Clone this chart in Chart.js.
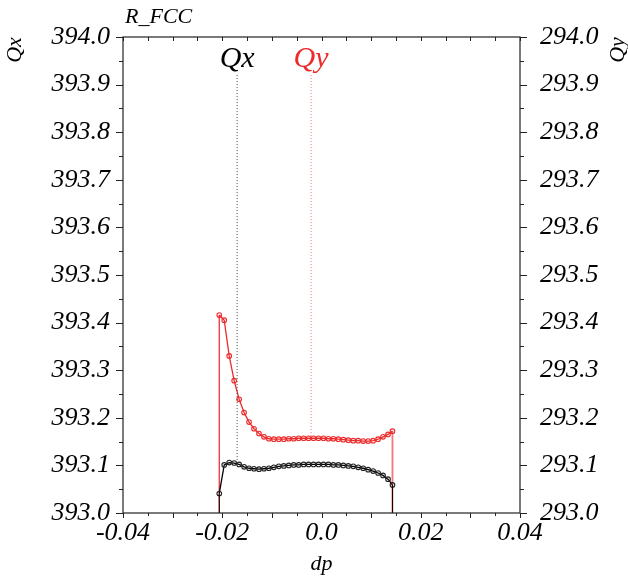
<!DOCTYPE html>
<html><head><meta charset="utf-8">
<script src="https://cdn.jsdelivr.net/npm/chart.js@4/dist/chart.umd.min.js"></script>
<style>html,body{margin:0;padding:0;background:#fff}</style>
</head><body>
<canvas id="c" width="628" height="577"></canvas>
<script>
// ---- data ----
const dp = [-0.0206,-0.0196,-0.0186,-0.0176,-0.0166,-0.0156,-0.0146,-0.0136,-0.0126,-0.0116,-0.0106,-0.0096,-0.0086,-0.0076,-0.0066,-0.0056,-0.0046,-0.0036,-0.0026,-0.0016,-0.0006,0.0004,0.0014,0.0024,0.0034,0.0044,0.0054,0.0064,0.0074,0.0084,0.0094,0.0104,0.0114,0.0124,0.0134,0.0143];
const qx = [393.041,393.101,393.106,393.105,393.102,393.097,393.094,393.093,393.092,393.093,393.094,393.096,393.098,393.099,393.100,393.101,393.101,393.102,393.102,393.102,393.102,393.102,393.102,393.101,393.101,393.100,393.099,393.098,393.096,393.094,393.091,393.088,393.084,393.079,393.071,393.059];
const qy = [293.416,293.405,293.330,293.278,293.239,293.211,293.191,293.177,293.167,293.160,293.156,293.155,293.155,293.155,293.156,293.156,293.157,293.157,293.157,293.157,293.157,293.157,293.156,293.156,293.155,293.154,293.153,293.152,293.152,293.151,293.151,293.152,293.155,293.160,293.165,293.172];
const xTickLabels = {"-0.04":"-0.04","-0.02":"-0.02","0":"0.0","0.02":"0.02","0.04":"0.04"};
const markerDp = [-0.0170, -0.0021];      // Qx, Qy working-point markers
const markerTopQx = 393.92, markerTopQy = 293.92;
const markerQx = 393.104, markerQy = 293.157;
const qxMin = 393.0, qxMax = 394.0, qyMin = 293.0, qyMax = 294.0;

const RED = '#ee2a2a';
const FONT = 'Liberation Serif';

const pts = (xs, ys) => xs.map((x, i) => ({x, y: ys[i]}));

const deco = {
  id: 'deco',
  afterDraw(chart) {
    const ctx = chart.ctx, a = chart.chartArea;
    const sx = chart.scales.x, sy = chart.scales.y, sy2 = chart.scales.y2;
    ctx.save();
    ctx.strokeStyle = '#222';
    ctx.lineWidth = 1.2;
    ctx.strokeRect(a.left, a.top, a.right - a.left, a.bottom - a.top);
    ctx.lineWidth = 1;
    ctx.beginPath();
    for (let i = 0; i <= 16; i++) {
      const v = -0.04 + i * 0.005;
      const p = Math.round(sx.getPixelForValue(v)) + 0.5;
      const major = i % 2 === 0;
      ctx.moveTo(p, a.bottom); ctx.lineTo(p, a.bottom + (major ? 5 : 3));
      ctx.moveTo(p, a.top); ctx.lineTo(p, a.top + 4);
    }
    for (let i = 0; i <= 20; i++) {
      const major = i % 2 === 0;
      const p = Math.round(sy.getPixelForValue(qxMin + i * 0.05)) + 0.5;
      ctx.moveTo(a.left, p); ctx.lineTo(a.left - (major ? 7 : 4), p);
      const p2 = Math.round(sy2.getPixelForValue(qyMin + i * 0.05)) + 0.5;
      ctx.moveTo(a.right, p2); ctx.lineTo(a.right + (major ? 7 : 4), p2);
    }
    ctx.stroke();
    ctx.fillStyle = '#000';
    ctx.font = 'italic 22px "' + FONT + '"';
    ctx.textBaseline = 'alphabetic';
    ctx.textAlign = 'left';
    ctx.fillText('R_FCC', a.left + 2, 23);
    ctx.font = 'italic 30px "' + FONT + '"';
    ctx.textAlign = 'center';
    ctx.fillText('Qx', sx.getPixelForValue(markerDp[0]), a.top + 30);
    ctx.fillStyle = RED;
    ctx.fillText('Qy', sx.getPixelForValue(markerDp[1]), a.top + 30);
    ctx.fillStyle = '#000';
    ctx.font = 'italic 22px "' + FONT + '"';
    ctx.save(); ctx.translate(21, 50); ctx.rotate(-Math.PI / 2); ctx.fillText('Qx', 0, 0); ctx.restore();
    ctx.save(); ctx.translate(624, 50); ctx.rotate(-Math.PI / 2); ctx.fillText('Qy', 0, 0); ctx.restore();
    ctx.restore();
  }
};

const tickFont = {family: FONT, size: 26, style: 'italic'};
new Chart(document.getElementById('c'), {
  type: 'line',
  data: {
    datasets: [
      {data: [{x: markerDp[0], y: markerTopQx}, {x: markerDp[0], y: markerQx}], yAxisID: 'y',
       borderColor: '#444', borderWidth: 1, borderDash: [1, 2], pointRadius: 0},
      {data: [{x: markerDp[1], y: markerTopQy}, {x: markerDp[1], y: markerQy}], yAxisID: 'y2',
       borderColor: '#f07070', borderWidth: 1, borderDash: [1, 2], pointRadius: 0},
      {data: [{x: dp[0], y: qxMin}, {x: dp[0], y: qx[0]}], yAxisID: 'y', borderColor: '#000', borderWidth: 1, pointRadius: 0},
      {data: [{x: dp[dp.length-1], y: qxMin}, {x: dp[dp.length-1], y: qx[qx.length-1]}], yAxisID: 'y', borderColor: '#000', borderWidth: 1, pointRadius: 0},
      {data: pts(dp, qx), yAxisID: 'y', borderColor: '#000', borderWidth: 1.3,
       pointRadius: 2.3, pointBorderWidth: 1.1, pointBackgroundColor: 'rgba(255,255,255,0)', pointBorderColor: '#222'},
      {data: [{x: dp[0], y: qyMin}, {x: dp[0], y: qy[0]}], yAxisID: 'y2', borderColor: 'rgba(230,30,40,0.9)', borderWidth: 1.3, pointRadius: 0},
      {data: [{x: dp[dp.length-1], y: qyMin}, {x: dp[dp.length-1], y: qy[qy.length-1]}], yAxisID: 'y2', borderColor: 'rgba(230,30,40,0.6)', borderWidth: 1.8, pointRadius: 0},
      {data: pts(dp, qy), yAxisID: 'y2', borderColor: RED, borderWidth: 1.3,
       pointRadius: 2.3, pointBorderWidth: 1.1, pointBackgroundColor: 'rgba(255,255,255,0)', pointBorderColor: RED}
    ]
  },
  options: {
    responsive: false, animation: false, devicePixelRatio: 1,
    layout: {padding: {top: 37, left: 0, right: 0, bottom: 0}},
    plugins: {legend: {display: false}, tooltip: {enabled: false}},
    scales: {
      x: {type: 'linear', position: 'bottom', min: -0.04, max: 0.04,
          grid: {display: false}, border: {display: false},
          ticks: {stepSize: 0.02, font: tickFont, color: '#000', padding: -3, maxRotation: 0,
                  callback: v => xTickLabels[String(Math.round(v * 100) / 100)] ?? ''},
          title: {display: true, text: 'dp', font: {family: FONT, size: 22, style: 'italic'}, color: '#000', padding: {top: 0, bottom: 0}},
          afterFit: s => { s.height = 64; }},
      y: {position: 'left', min: qxMin, max: qxMax,
          grid: {display: false}, border: {display: false},
          ticks: {stepSize: 0.1, font: tickFont, color: '#000', padding: 5, callback: v => v.toFixed(1)},
          afterFit: s => { s.width = 123; }},
      y2: {position: 'right', min: qyMin, max: qyMax,
          grid: {display: false}, border: {display: false},
          ticks: {stepSize: 0.1, font: tickFont, color: '#000', padding: 12, callback: v => v.toFixed(1)},
          afterFit: s => { s.width = 108; }}
    }
  },
  plugins: [deco]
});
</script>
</body></html>
